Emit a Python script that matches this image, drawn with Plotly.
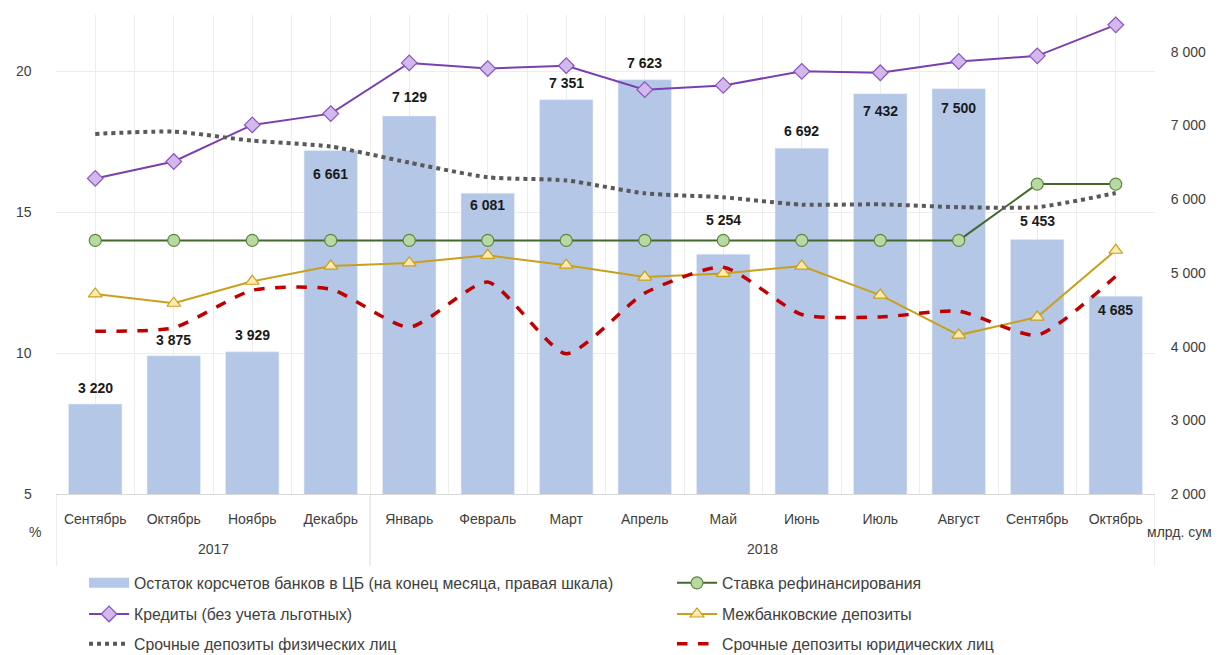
import plotly.graph_objects as go

months = ["Сентябрь", "Октябрь", "Ноябрь", "Декабрь", "Январь", "Февраль", "Март",
          "Апрель", "Май", "Июнь", "Июль", "Август", "Сентябрь", "Октябрь"]
years = ["2017", "2018"]

korschet = [3220, 3875, 3929, 6661, 7129, 6081, 7351, 7623, 5254, 6692, 7432, 7500, 5453, 4685]
stavka = [14, 14, 14, 14, 14, 14, 14, 14, 14, 14, 14, 14, 16, 16]
kredity = [16.2, 16.8, 18.1, 18.5, 20.3, 20.1, 20.2, 19.35, 19.5, 20.0, 19.95, 20.35, 20.55, 21.65]
mezhbank = [12.1, 11.77, 12.55, 13.09, 13.2, 13.47, 13.12, 12.7, 12.83, 13.09, 12.06, 10.64, 11.28, 13.65]
fiz = [17.78, 17.86, 17.54, 17.33, 16.76, 16.24, 16.13, 15.67, 15.53, 15.27, 15.28, 15.18, 15.18, 15.68]
yur = [10.78, 10.9, 12.23, 12.27, 10.92, 12.52, 9.98, 12.13, 13.05, 11.37, 11.28, 11.49, 10.64, 12.73]

left_ticks = [5, 10, 15, 20]
right_ticks = [2000, 3000, 4000, 5000, 6000, 7000, 8000]

x = list(range(len(months)))
FONT = "Liberation Sans, Arial, sans-serif"
TXT = "#404040"
BAR_COLOR = "#B4C7E7"
PAD = "\u00a0" * 6  # pushes left-axis labels away from the plot edge

def fmt(v):
    return f"{v:,}".replace(",", " ")

# page body has an 8px default margin: the figure is shrunk/shifted to compensate
OFF = 8
W, H = 1224 - OFF, 655 - OFF
PLOT_BOTTOM = 494

fig = go.Figure()

bar_name = "Остаток корсчетов банков в ЦБ (на конец месяца, правая шкала)"
fig.add_trace(go.Bar(
    x=x, y=korschet, name=bar_name, showlegend=False,
    marker=dict(color=BAR_COLOR), width=0.68, yaxis="y",
))
# legend-only entry drawn as a wide swatch
fig.add_trace(go.Scatter(
    x=[None], y=[None], name=bar_name, mode="lines",
    line=dict(color=BAR_COLOR, width=11), yaxis="y", legend="legend",
))

# bar value labels (label centre offset from bar top, px; positive = up)
label_shift = [16, 16, 17, -23, 19, -12, 17, 17, 34, 17, -17, -19, 19, -14]
for xi, v, s in zip(x, korschet, label_shift):
    fig.add_annotation(x=xi, y=v, xref="x", yref="y", text=f"<b>{fmt(v)}</b>", showarrow=False,
                       yanchor="middle", yshift=s,
                       font=dict(family=FONT, size=14, color="#1a1a1a"))

fig.add_trace(go.Scatter(
    x=x, y=stavka, name="Ставка рефинансирования", mode="lines+markers",
    line=dict(color="#43682B", width=2),
    marker=dict(symbol="circle", size=12, color="#B8D9A3", line=dict(color="#5B8A3C", width=1.2)),
    yaxis="y2", legend="legend2",
))

fig.add_trace(go.Scatter(
    x=x, y=kredity, name="Кредиты (без учета льготных)", mode="lines+markers",
    line=dict(color="#7A3FB0", width=2),
    marker=dict(symbol="diamond", size=12, color="#D2B8EC", line=dict(color="#8A52C0", width=1.2)),
    yaxis="y2", legend="legend3",
))

fig.add_trace(go.Scatter(
    x=x, y=mezhbank, name="Межбанковские депозиты", mode="lines+markers",
    line=dict(color="#C9A01C", width=2),
    marker=dict(symbol="triangle-up", size=12, color="#FFEBB0", line=dict(color="#C9A01C", width=1.2)),
    yaxis="y2", legend="legend4",
))

fig.add_trace(go.Scatter(
    x=x, y=fiz, name="Срочные депозиты физических лиц", mode="lines",
    line=dict(color="#595959", width=4, dash="dot", shape="spline", smoothing=0.6),
    yaxis="y2", legend="legend5",
))

fig.add_trace(go.Scatter(
    x=x, y=yur, name="Срочные депозиты юридических лиц", mode="lines",
    line=dict(color="#C00000", width=3.5, dash="dash", shape="spline", smoothing=0.6),
    yaxis="y2", legend="legend6",
))

# separators of the category table
for xs in [-0.5, 3.5, 13.5]:
    fig.add_shape(type="line", xref="x", yref="paper", x0=xs, x1=xs, y0=0, y1=-0.15,
                  line=dict(color="#D9D9D9", width=1))

fig.add_annotation(x=1.5, y=-0.115, xref="x", yref="paper", text=years[0], showarrow=False,
                   font=dict(family=FONT, size=14, color=TXT), yanchor="middle")
fig.add_annotation(x=8.5, y=-0.115, xref="x", yref="paper", text=years[1], showarrow=False,
                   font=dict(family=FONT, size=14, color=TXT), yanchor="middle")
fig.add_annotation(x=-0.026, y=-0.079, xref="paper", yref="paper", text="%", showarrow=False,
                   font=dict(family=FONT, size=14, color=TXT), yanchor="middle")
fig.add_annotation(x=1.0535, y=-0.079, xref="paper", yref="paper", text="млрд. сум", showarrow=False,
                   font=dict(family=FONT, size=14, color=TXT), yanchor="middle", xanchor="right")

def leg(xp, yp):
    return dict(orientation="v", x=xp, y=yp, xanchor="left", yanchor="middle", itemwidth=40,
                font=dict(family=FONT, size=15.8, color=TXT), bgcolor="rgba(0,0,0,0)")

col1, col2 = 0.0255, 0.5605
row1, row2, row3 = -0.186, -0.251, -0.313

fig.update_layout(
    width=W, height=H,
    margin=dict(l=56 - OFF, r=69, t=15 - OFF, b=H + OFF - PLOT_BOTTOM, autoexpand=False),
    paper_bgcolor="white", plot_bgcolor="white",
    font=dict(family=FONT, size=14, color=TXT),
    showlegend=True,
    legend=leg(col1, row1), legend2=leg(col2, row1),
    legend3=leg(col1, row2), legend4=leg(col2, row2),
    legend5=leg(col1, row3), legend6=leg(col2, row3),
    xaxis=dict(
        range=[-0.5, 13.5], tickvals=x, ticktext=months,
        showgrid=True, gridcolor="#EDEDED", gridwidth=1,
        minor=dict(tickvals=[i - 0.5 for i in range(len(months) + 1)], showgrid=True,
                   gridcolor="#EDEDED", gridwidth=1),
        showline=True, linecolor="#D9D9D9", linewidth=1,
        ticks="outside", ticklen=12, tickcolor="rgba(0,0,0,0)",
        tickfont=dict(family=FONT, size=14, color=TXT), zeroline=False,
    ),
    yaxis=dict(
        range=[2000, 8500], side="right", tickvals=right_ticks,
        ticktext=[fmt(v) for v in right_ticks], showgrid=False, zeroline=False,
        ticks="outside", ticklen=12, tickcolor="rgba(0,0,0,0)",
        tickfont=dict(family=FONT, size=14, color=TXT),
    ),
    yaxis2=dict(
        range=[5, 22], side="left", overlaying="y", tickvals=left_ticks,
        ticktext=[f"{v}{PAD}" for v in left_ticks],
        showgrid=True, gridcolor="#EDEDED", gridwidth=1, zeroline=False,
        ticks="",
        tickfont=dict(family=FONT, size=14, color=TXT),
    ),
)

fig.write_html("out.html")
